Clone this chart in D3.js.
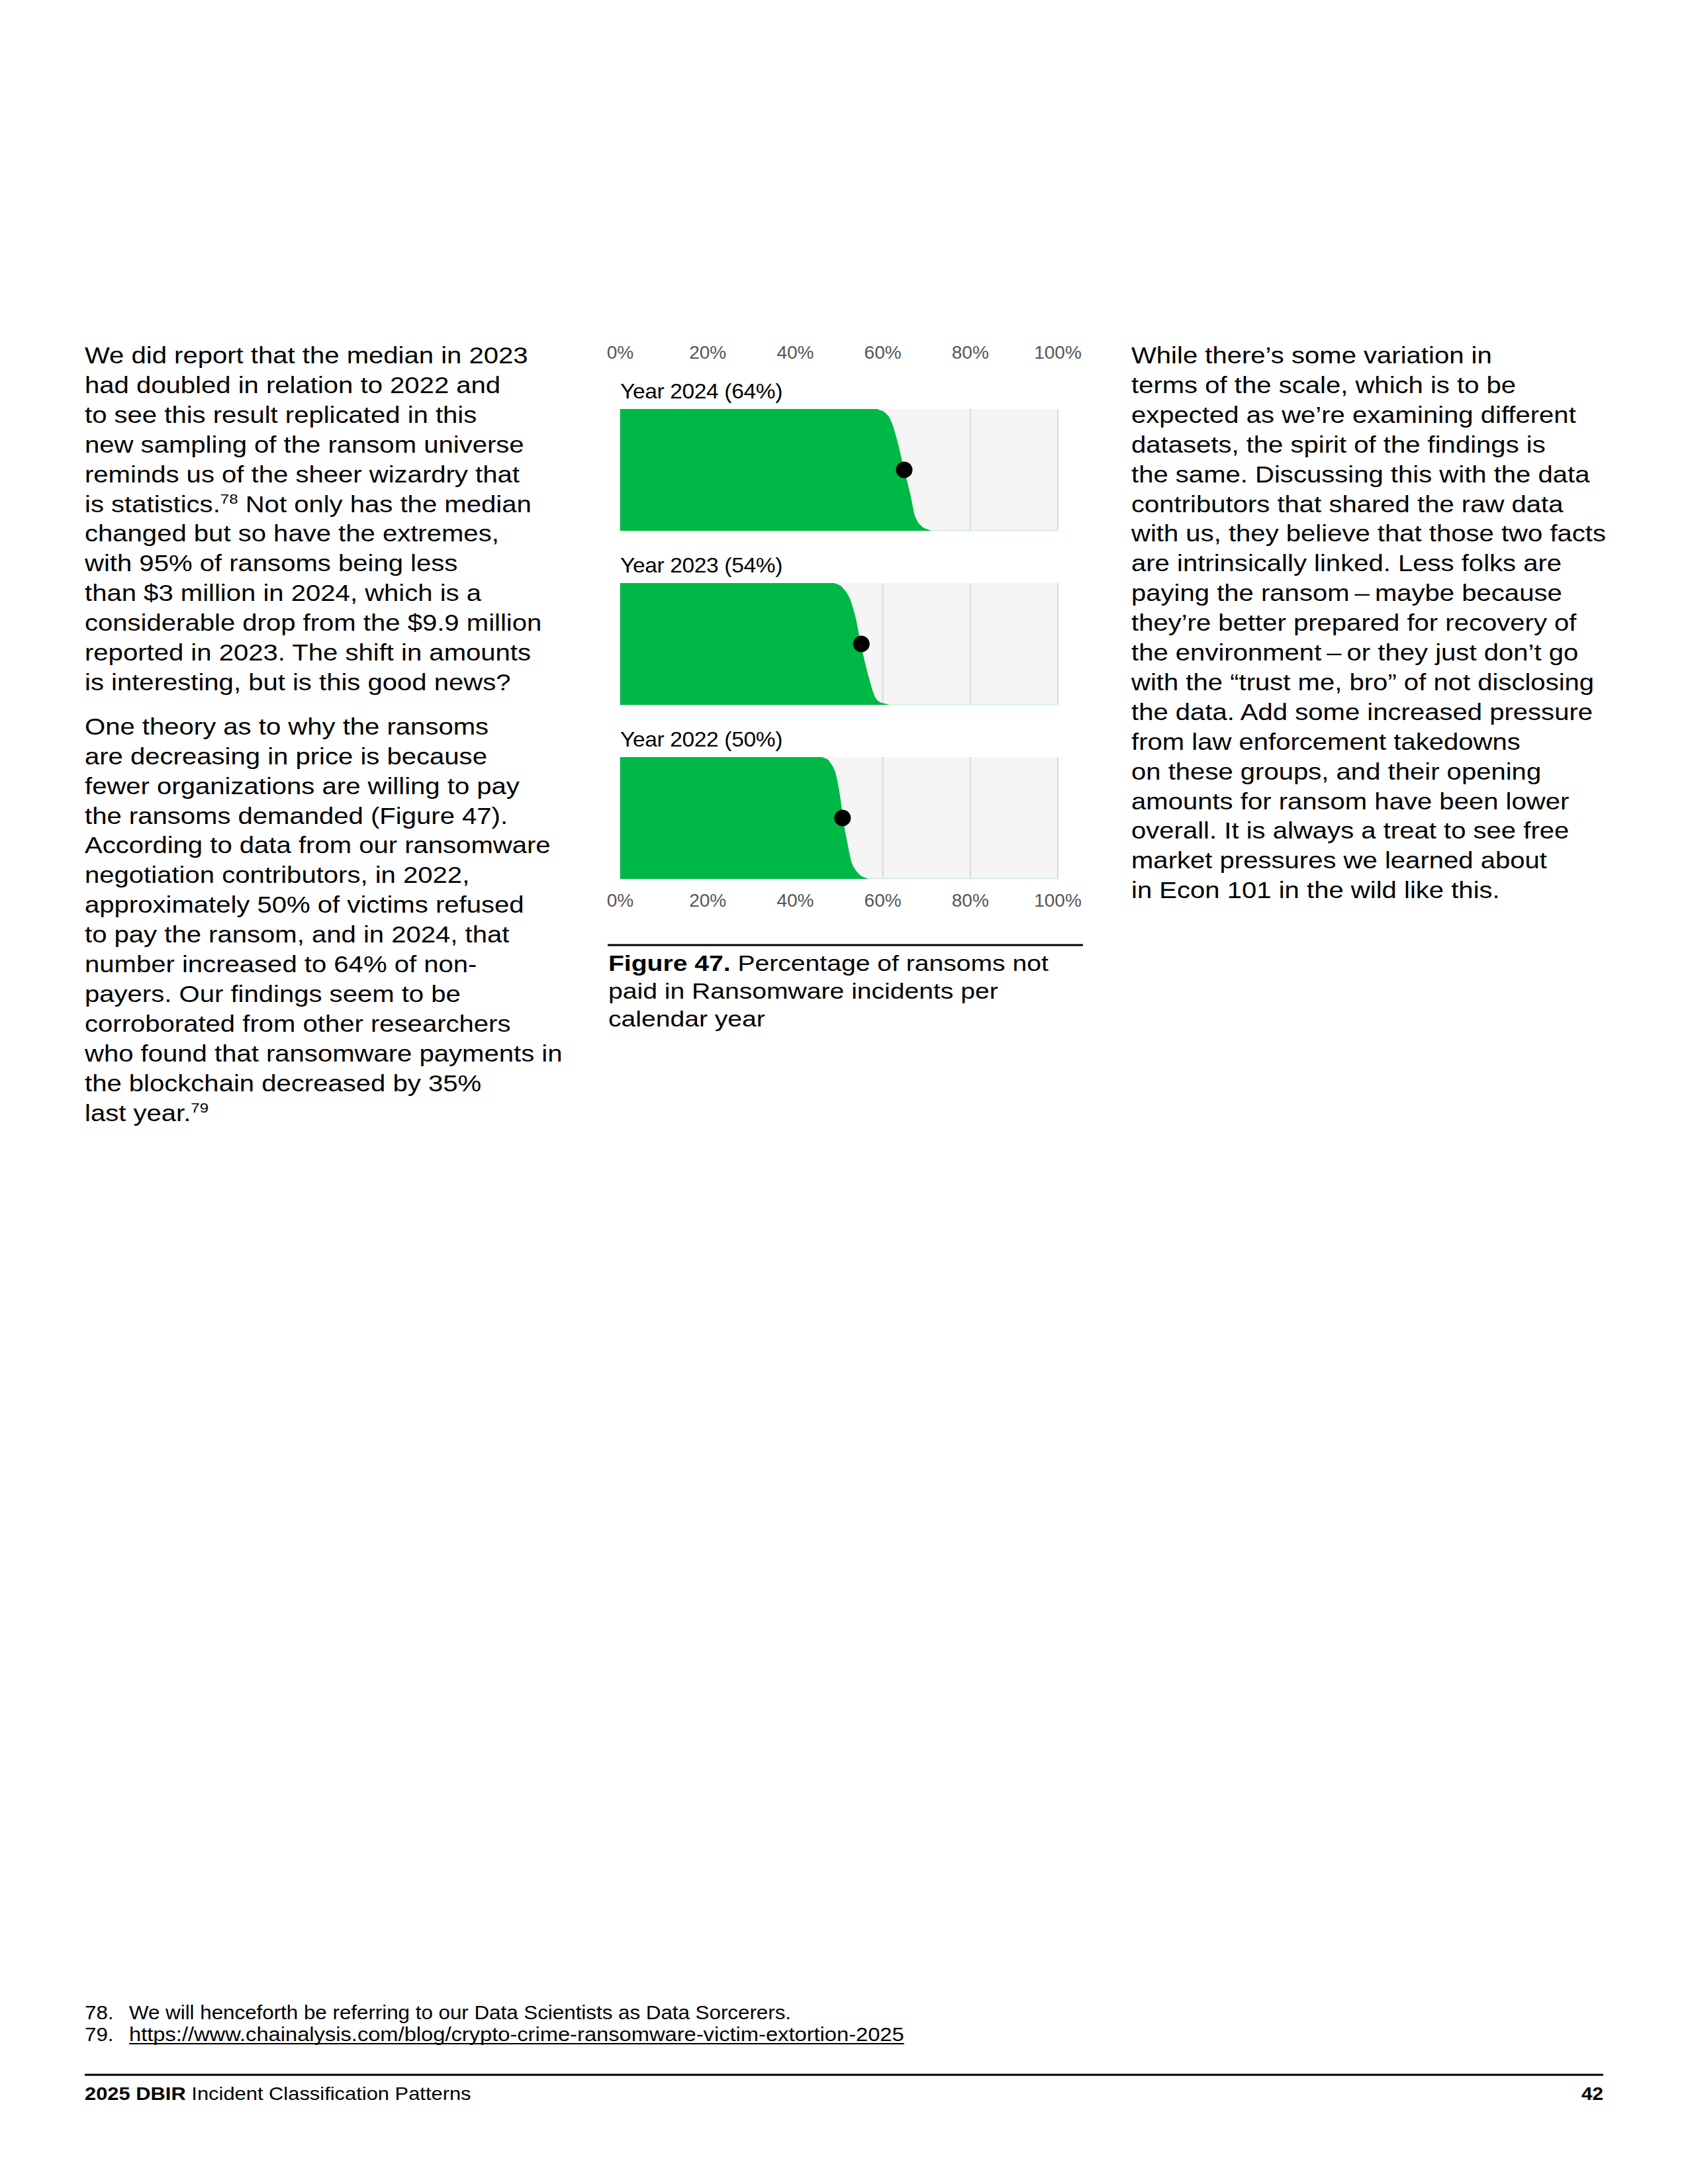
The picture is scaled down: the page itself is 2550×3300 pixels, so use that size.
<!DOCTYPE html>
<html>
<head>
<meta charset="utf-8">
<script src="https://cdn.jsdelivr.net/npm/d3@7"></script>
<style>
  html, body { margin: 0; padding: 0; background: #fff; }
  svg { display: block; }
  text { font-family: "Liberation Sans", Arial, Helvetica, sans-serif; }
</style>
</head>
<body>
<div id="page"></div>
<script>
// ---------------- DATA ----------------
const years = ["2024", "2023", "2022"];
const labelPcts = [64, 54, 50];
const medians = [64.9, 55.1, 50.8];
const quantiles = [0, 0.015, 0.05, 0.1, 0.2, 0.3, 0.4, 0.5, 0.6, 0.7, 0.8, 0.9, 0.95, 0.98, 1];
const values2024 = [58.7, 59.8, 61.1, 61.9, 62.85, 63.6, 64.25, 64.9, 65.6, 66.3, 66.85, 67.6, 68.5, 69.6, 71.1];
const values2023 = [48.9, 50.0, 51.1, 52.1, 53.15, 53.9, 54.45, 55.0, 55.6, 56.25, 57.0, 57.85, 58.5, 59.5, 61.5];
const values2022 = [46.1, 47.2, 48.1, 48.9, 49.65, 50.15, 50.55, 50.95, 51.35, 51.9, 52.45, 53.3, 54.3, 55.3, 56.7];
const tickValues = [0, 20, 40, 60, 80, 100];
const tickLabels = ["0%", "20%", "40%", "60%", "80%", "100%"];

const leftPara1 = [
  "We did report that the median in 2023",
  "had doubled in relation to 2022 and",
  "to see this result replicated in this",
  "new sampling of the ransom universe",
  "reminds us of the sheer wizardry that",
  ["is statistics.", "78", " Not only has the median"],
  "changed but so have the extremes,",
  "with 95% of ransoms being less",
  "than $3 million in 2024, which is a",
  "considerable drop from the $9.9 million",
  "reported in 2023. The shift in amounts",
  "is interesting, but is this good news?"
];
const leftPara2 = [
  "One theory as to why the ransoms",
  "are decreasing in price is because",
  "fewer organizations are willing to pay",
  "the ransoms demanded (Figure 47).",
  "According to data from our ransomware",
  "negotiation contributors, in 2022,",
  "approximately 50% of victims refused",
  "to pay the ransom, and in 2024, that",
  "number increased to 64% of non-",
  "payers. Our findings seem to be",
  "corroborated from other researchers",
  "who found that ransomware payments in",
  "the blockchain decreased by 35%",
  ["last year.", "79", ""]
];
const rightPara = [
  "While there\u2019s some variation in",
  "terms of the scale, which is to be",
  "expected as we\u2019re examining different",
  "datasets, the spirit of the findings is",
  "the same. Discussing this with the data",
  "contributors that shared the raw data",
  "with us, they believe that those two facts",
  "are intrinsically linked. Less folks are",
  "paying the ransom\u2009\u2013\u2009maybe because",
  "they\u2019re better prepared for recovery of",
  "the environment\u2009\u2013\u2009or they just don\u2019t go",
  "with the \u201Ctrust me, bro\u201D of not disclosing",
  "the data. Add some increased pressure",
  "from law enforcement takedowns",
  "on these groups, and their opening",
  "amounts for ransom have been lower",
  "overall. It is always a treat to see free",
  "market pressures we learned about",
  "in Econ 101 in the wild like this."
];
const captionBold = "Figure 47.";
const captionLines = [" Percentage of ransoms not", "paid in Ransomware incidents per", "calendar year"];
const footnotes = [
  ["78.", "We will henceforth be referring to our Data Scientists as Data Sorcerers.", false],
  ["79.", "https://www.chainalysis.com/blog/crypto-crime-ransomware-victim-extortion-2025", true]
];
const footerBold = "2025 DBIR";
const footerText = " Incident Classification Patterns";
const pageNumber = "42";

// ---------------- LAYOUT ----------------
const W = 2550, H = 3300;
const svg = d3.select("#page").append("svg").attr("width", W).attr("height", H);
svg.append("rect").attr("width", W).attr("height", H).attr("fill", "#fff");

// text helper: horizontally widened glyphs to match the reference typeface
function addText(x, y, size, sx, anchor) {
  const g = svg.append("g").attr("transform", `translate(${x},${y}) scale(${sx},1)`);
  const t = g.append("text").attr("x", 0).attr("y", 0)
    .attr("font-size", size).attr("fill", "#000");
  if (anchor) t.attr("text-anchor", anchor);
  return { g, t };
}

const bodySize = 35, lineH = 44.9, bodySX = 1.145;
function drawLines(lines, x, y0) {
  lines.forEach((ln, i) => {
    const { t } = addText(x, y0 + i * lineH, bodySize, bodySX);
    if (Array.isArray(ln)) {
      t.append("tspan").text(ln[0]);
      t.append("tspan").attr("font-size", 21).attr("dy", -13).text(ln[1]);
      t.append("tspan").attr("dy", 13).text(ln[2]);
    } else {
      t.text(ln);
    }
  });
}
drawLines(leftPara1, 128, 549);
drawLines(leftPara2, 128, 549 + 12 * lineH + 22);
drawLines(rightPara, 1709, 549);

// ---------------- CHART ----------------
const x = d3.scaleLinear().domain([0, 100]).range([937, 1598]);
const panelTops = [618, 881, 1144];
const panelH = 184;
const seriesValues = [values2024, values2023, values2022];
const green = "#00b845";

// top axis labels
svg.append("g").selectAll("text").data(tickValues).join("text")
  .attr("x", d => x(d)).attr("y", 542).attr("text-anchor", "middle")
  .attr("font-size", 28).attr("fill", "#555").text((d, i) => tickLabels[i]);
// bottom axis labels
svg.append("g").selectAll("text").data(tickValues).join("text")
  .attr("x", d => x(d)).attr("y", 1370).attr("text-anchor", "middle")
  .attr("font-size", 28).attr("fill", "#555").text((d, i) => tickLabels[i]);

years.forEach((yr, i) => {
  const top = panelTops[i];
  const y = d3.scaleLinear().domain([0, 1]).range([top, top + panelH]);
  const g = svg.append("g");
  const lab = addText(x(0), top - 16, 32, 1.045);
  lab.t.attr("letter-spacing", -0.3).text(`Year ${yr} (${labelPcts[i]}%)`);
  g.append("rect").attr("x", x(0)).attr("y", top)
    .attr("width", x(100) - x(0) + 1).attr("height", panelH).attr("fill", "#f5f5f5");
  g.selectAll("line.grid").data(tickValues).join("line").attr("class", "grid")
    .attr("x1", d => x(d)).attr("x2", d => x(d))
    .attr("y1", top).attr("y2", top + panelH)
    .attr("stroke", "#d9d9d9").attr("stroke-width", 2);
  g.append("line").attr("x1", x(0)).attr("x2", x(100) + 1)
    .attr("y1", top + panelH - 0.5).attr("y2", top + panelH - 0.5)
    .attr("stroke", "#d6f1de").attr("stroke-width", 2);
  const pts = quantiles.map((q, k) => [q, seriesValues[i][k]]);
  const area = d3.area()
    .y(d => y(d[0])).x0(x(0)).x1(d => x(d[1]))
    .curve(d3.curveMonotoneY);
  g.append("path").datum(pts).attr("d", area).attr("fill", green);
  g.append("circle").attr("cx", x(medians[i])).attr("cy", y(0.5))
    .attr("r", 12.5).attr("fill", "#000");
});

// caption
svg.append("line").attr("x1", 918).attr("x2", 1636).attr("y1", 1428).attr("y2", 1428)
  .attr("stroke", "#000").attr("stroke-width", 3);
const capSX = 1.15;
const cap = addText(919, 1467, 34, capSX);
cap.t.append("tspan").attr("font-weight", "bold").text(captionBold);
cap.t.append("tspan").text(captionLines[0]);
captionLines.slice(1).forEach((ln, i) => {
  addText(919, 1467 + (i + 1) * 42, 34, capSX).t.text(ln);
});

// footnotes
footnotes.forEach((fn, i) => {
  const yy = 3051 + i * 33;
  addText(128, yy, 29, 1.08).t.text(fn[0]);
  const o = addText(195, yy, 29, fn[2] ? 1.127 : 1.08);
  o.t.text(fn[1]);
  if (fn[2]) {
    const len = o.t.node().getComputedTextLength();
    o.g.append("line").attr("x1", 0).attr("x2", len).attr("y1", 4).attr("y2", 4)
      .attr("stroke", "#000").attr("stroke-width", 2);
  }
});

// footer
svg.append("line").attr("x1", 128).attr("x2", 2422).attr("y1", 3135).attr("y2", 3135)
  .attr("stroke", "#000").attr("stroke-width", 3);
const ft = addText(128, 3173, 27, 1.144);
ft.t.append("tspan").attr("font-weight", "bold").text(footerBold);
ft.t.append("tspan").text(footerText);
addText(2422, 3173, 27, 1.1, "end").t.attr("font-weight", "bold").text(pageNumber);
</script>
</body>
</html>
